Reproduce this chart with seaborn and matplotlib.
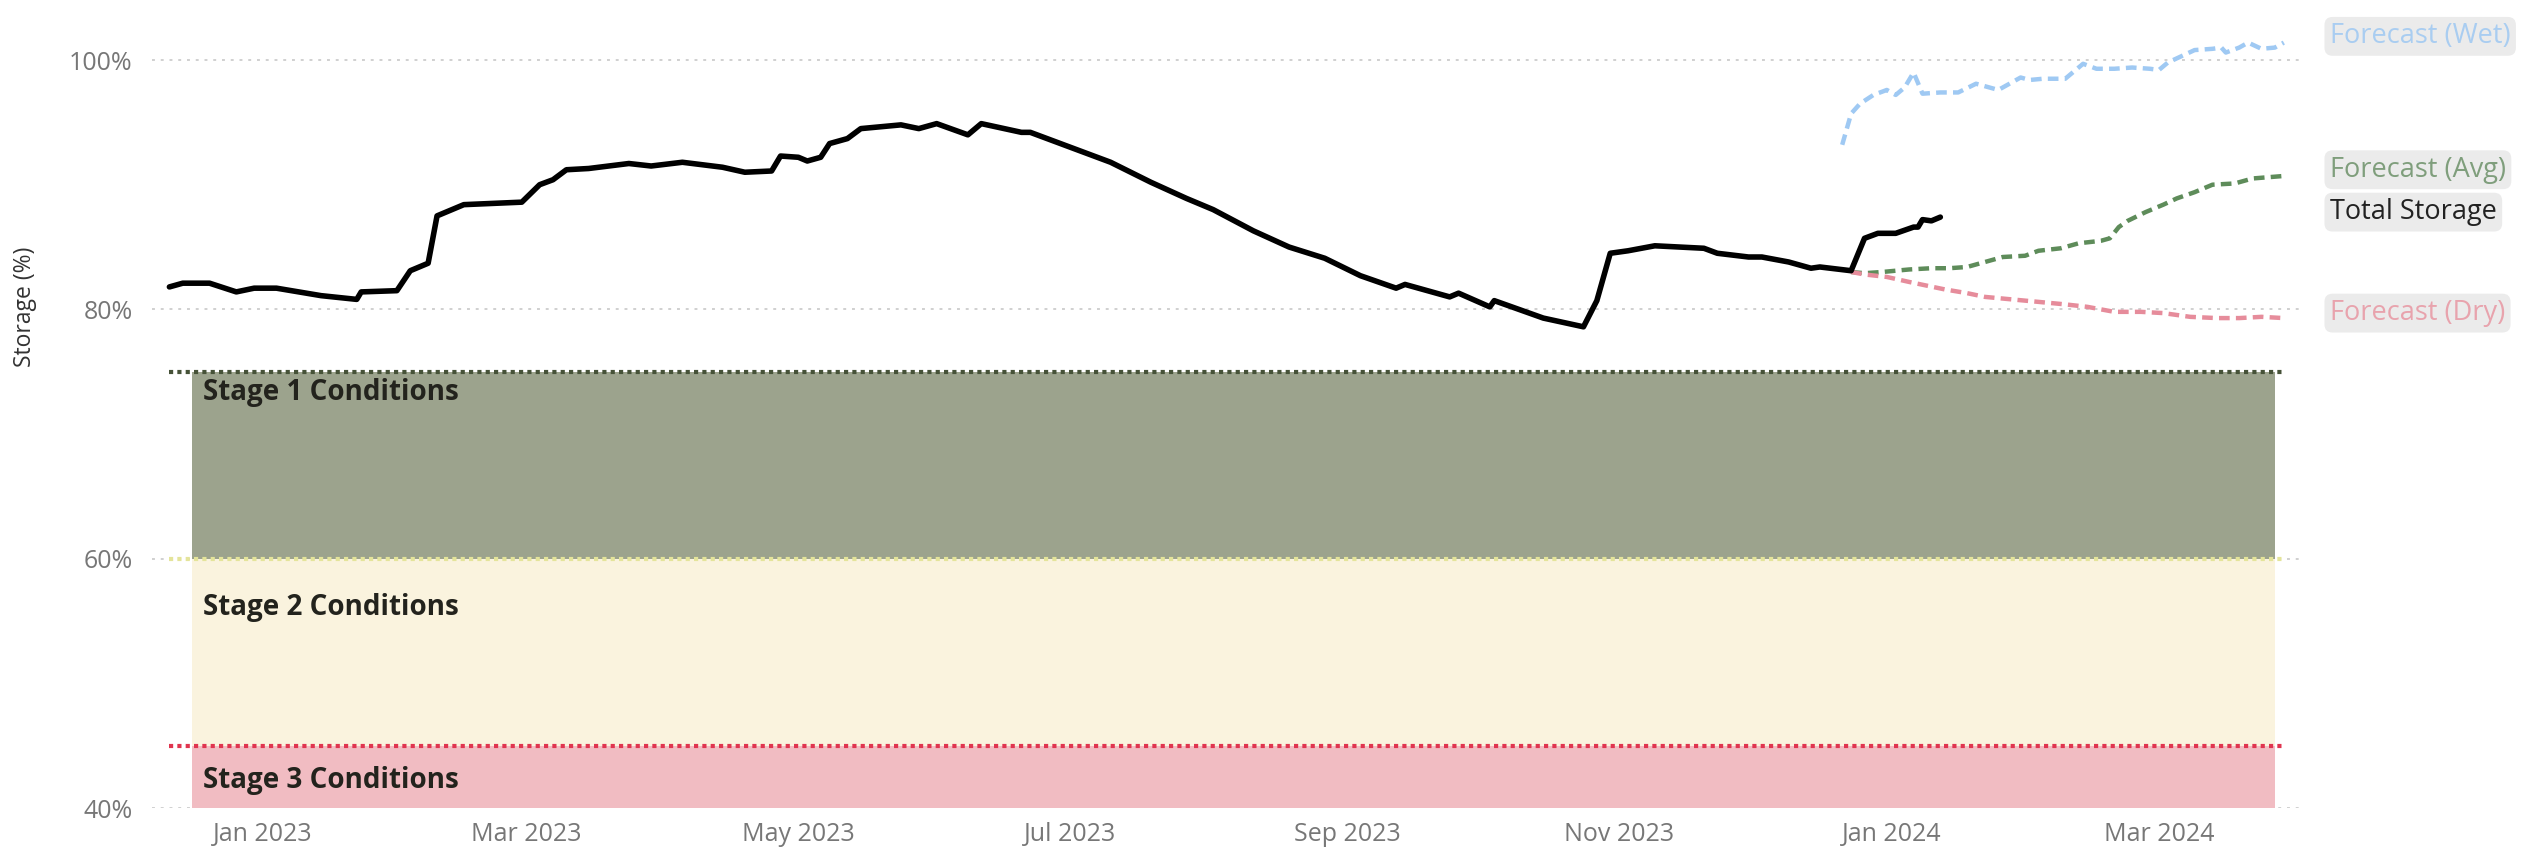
import pandas as pd
import numpy as np
import matplotlib
matplotlib.use("Agg")
import matplotlib.pyplot as plt
import matplotlib.dates as mdates
import matplotlib.transforms as mtransforms
import seaborn as sns

# -------------------------------
# Data
# -------------------------------
storage_dates = [
    "2022-12-11", "2022-12-14", "2022-12-20", "2022-12-26", "2022-12-30", "2023-01-04",
    "2023-01-14", "2023-01-22", "2023-01-23", "2023-01-31", "2023-02-03", "2023-02-07",
    "2023-02-09", "2023-02-15", "2023-02-28", "2023-03-04", "2023-03-07", "2023-03-10",
    "2023-03-15", "2023-03-24", "2023-03-29", "2023-04-05", "2023-04-14", "2023-04-19",
    "2023-04-25", "2023-04-27", "2023-05-01", "2023-05-03", "2023-05-06", "2023-05-08",
    "2023-05-12", "2023-05-15", "2023-05-24", "2023-05-28", "2023-06-01", "2023-06-08",
    "2023-06-11", "2023-06-20", "2023-06-22", "2023-07-04", "2023-07-10", "2023-07-19",
    "2023-07-27", "2023-08-02", "2023-08-11", "2023-08-19", "2023-08-27", "2023-09-04",
    "2023-09-12", "2023-09-14", "2023-09-24", "2023-09-26", "2023-10-03", "2023-10-04",
    "2023-10-15", "2023-10-24", "2023-10-27", "2023-10-30", "2023-11-03", "2023-11-09",
    "2023-11-20", "2023-11-23", "2023-11-30", "2023-12-03", "2023-12-09", "2023-12-14",
    "2023-12-16", "2023-12-23", "2023-12-26", "2023-12-29", "2024-01-02", "2024-01-06",
    "2024-01-07", "2024-01-08", "2024-01-10", "2024-01-12",
]
storage_pct = [
    81.8, 82.1, 82.1, 81.4, 81.7, 81.7,
    81.1, 80.8, 81.4, 81.5, 83.1, 83.7,
    87.5, 88.4, 88.6, 90.0, 90.4, 91.2,
    91.3, 91.7, 91.5, 91.8, 91.4, 91.0,
    91.1, 92.3, 92.2, 91.9, 92.2, 93.3,
    93.7, 94.5, 94.8, 94.5, 94.9, 94.0,
    94.9, 94.2, 94.2, 92.6, 91.8, 90.2,
    88.9, 88.0, 86.3, 85.0, 84.1, 82.7,
    81.7, 82.0, 81.0, 81.3, 80.2, 80.7,
    79.3, 78.6, 80.7, 84.5, 84.7, 85.1,
    84.9, 84.5, 84.2, 84.2, 83.8, 83.3,
    83.4, 83.1, 85.7, 86.1, 86.1, 86.6,
    86.6, 87.2, 87.1, 87.4,
]

wet_dates = [
    "2023-12-21", "2023-12-23", "2023-12-25", "2023-12-28", "2023-12-31", "2024-01-02",
    "2024-01-04", "2024-01-06", "2024-01-08", "2024-01-12", "2024-01-16", "2024-01-20",
    "2024-01-25", "2024-01-30", "2024-02-01", "2024-02-04", "2024-02-09", "2024-02-13",
    "2024-02-16", "2024-02-20", "2024-02-24", "2024-02-28", "2024-03-01", "2024-03-03",
    "2024-03-06", "2024-03-09", "2024-03-13", "2024-03-15", "2024-03-16", "2024-03-19",
    "2024-03-21", "2024-03-24", "2024-03-27", "2024-03-29",
]
wet_pct = [
    93.2, 95.7, 96.5, 97.2, 97.6, 97.2,
    97.8, 99.0, 97.3, 97.4, 97.4, 98.1,
    97.6, 98.6, 98.4, 98.5, 98.5, 99.7,
    99.3, 99.3, 99.4, 99.3, 99.2, 99.8,
    100.3, 100.8, 100.9, 101.0, 100.6, 101.0,
    101.4, 100.9, 101.0, 101.4,
]

avg_dates = [
    "2023-12-23", "2023-12-26", "2023-12-30", "2024-01-05", "2024-01-10", "2024-01-14",
    "2024-01-18", "2024-01-22", "2024-01-26", "2024-01-31", "2024-02-03", "2024-02-08",
    "2024-02-12", "2024-02-17", "2024-02-19", "2024-02-21", "2024-02-23", "2024-02-27",
    "2024-03-02", "2024-03-05", "2024-03-09", "2024-03-13", "2024-03-18", "2024-03-22",
    "2024-03-29",
]
avg_pct = [
    83.0, 82.9, 83.0, 83.2, 83.3, 83.3,
    83.4, 83.8, 84.2, 84.3, 84.7, 84.9,
    85.3, 85.5, 85.7, 86.6, 87.1, 87.8,
    88.4, 88.9, 89.4, 90.0, 90.1, 90.5,
    90.7,
]

dry_dates = [
    "2023-12-23", "2023-12-26", "2023-12-31", "2024-01-05", "2024-01-09", "2024-01-13",
    "2024-01-18", "2024-01-22", "2024-01-28", "2024-02-03", "2024-02-09", "2024-02-14",
    "2024-02-20", "2024-02-26", "2024-03-02", "2024-03-08", "2024-03-14", "2024-03-19",
    "2024-03-24", "2024-03-29",
]
dry_pct = [
    83.0, 82.8, 82.6, 82.2, 81.9, 81.6,
    81.3, 81.0, 80.8, 80.6, 80.4, 80.2,
    79.8, 79.8, 79.7, 79.4, 79.3, 79.3,
    79.4, 79.3,
]

# stage bands (lower, upper) and their names
stage_names = ["Stage 1 Conditions", "Stage 2 Conditions", "Stage 3 Conditions"]
stage_lower = [60, 45, 40]
stage_upper = [75, 60, 45]
band_start, band_end = "2022-12-16", "2024-03-27"
line_start, line_end = "2022-12-11", "2024-03-29"

y_ticks = [40, 60, 80, 100]
x_ticks = ["2023-01-01", "2023-03-01", "2023-05-01", "2023-07-01",
           "2023-09-01", "2023-11-01", "2024-01-01", "2024-03-01"]

# -------------------------------
# Style
# -------------------------------
sns.set_style("white")
plt.rcParams["font.family"] = ["Open Sans", "DejaVu Sans"]

band_colors = ["#9ca38d", "#faf3de", "#f1bcc2"]
thresh_colors = ["#465238", "#e4e49a", "#e0354f"]

storage = pd.DataFrame({"date": pd.to_datetime(storage_dates), "pct": storage_pct})
wet = pd.DataFrame({"date": pd.to_datetime(wet_dates), "pct": wet_pct})
avg = pd.DataFrame({"date": pd.to_datetime(avg_dates), "pct": avg_pct})
dry = pd.DataFrame({"date": pd.to_datetime(dry_dates), "pct": dry_pct})

W, H = 2534, 865
fig = plt.figure(figsize=(W / 100, H / 100), dpi=100)
left_px, right_px, top_px, bot_px = 152, 2303, 30, 808
ax = fig.add_axes([left_px / W, 1 - bot_px / H, (right_px - left_px) / W, (bot_px - top_px) / H])

# gridlines
for v in y_ticks:
    ax.axhline(v, color="#d0d0d0", lw=1.4, ls=(0, (1.5, 3)), zorder=0)

# stage bands
bx = pd.to_datetime([band_start, band_end])
for lo, hi, c in zip(stage_lower, stage_upper, band_colors):
    ax.fill_between(bx, lo, hi, color=c, lw=0, zorder=1)

# threshold lines
lx = pd.to_datetime([line_start, line_end])
for hi, c in zip(stage_upper, thresh_colors):
    ax.hlines(hi, lx[0], lx[1], colors=c, lw=3, linestyles=(0, (1, 1)), zorder=2)

# stage labels
tr = mtransforms.blended_transform_factory(ax.transAxes, ax.transData)
stage_label_y = [73.3, 56.1, 42.2]
for name, yv in zip(stage_names, stage_label_y):
    ax.text(0.0235, yv, name, transform=tr, fontsize=20, fontweight="bold",
            color="#23231d", va="center", ha="left", zorder=3)

# series
sns.lineplot(data=wet, x="date", y="pct", ax=ax, color="#9fc9f3", lw=3.2, zorder=4)
ax.lines[-1].set_dashes((2.4, 1.4))
sns.lineplot(data=avg, x="date", y="pct", ax=ax, color="#5e8c5a", lw=3.2, zorder=4)
ax.lines[-1].set_dashes((2.4, 1.4))
sns.lineplot(data=dry, x="date", y="pct", ax=ax, color="#e68c9b", lw=3.2, zorder=4)
ax.lines[-1].set_dashes((2.4, 1.4))
sns.lineplot(data=storage, x="date", y="pct", ax=ax, color="black", lw=4, zorder=5)

# end labels
end_labels = [
    ("Forecast (Wet)", wet_pct[-1] + 0.5, "#a9cdf1"),
    ("Forecast (Avg)", avg_pct[-1] + 0.5, "#7f9e7c"),
    ("Total Storage", storage_pct[-1] + 0.4, "#222222"),
    ("Forecast (Dry)", dry_pct[-1] + 0.4, "#e8a3ad"),
]
for txt, yv, c in end_labels:
    ax.text(1.0125, yv, txt, transform=tr, fontsize=19.5, color=c, va="center", ha="left",
            bbox=dict(boxstyle="round,pad=0.2,rounding_size=0.3", fc="#ebebeb", ec="none"),
            clip_on=False)

# axes formatting
ax.set_xlim(pd.Timestamp("2023-01-01") - pd.Timedelta(days=24.9),
            pd.Timestamp("2023-01-01") + pd.Timedelta(days=457.3))
ax.set_ylim(40, 102.41)
ax.set_yticks(y_ticks)
ax.set_yticklabels([f"{v}%" for v in y_ticks])
ax.set_xticks(pd.to_datetime(x_ticks))
ax.xaxis.set_major_formatter(mdates.DateFormatter("%b %Y"))
ax.tick_params(axis="both", length=0, labelsize=18, labelcolor="#777777")
ax.tick_params(axis="y", pad=14)
ax.tick_params(axis="x", pad=10)
ax.set_xlabel("")
ax.set_ylabel("Storage (%)", fontsize=16.5, color="#333333")
ax.yaxis.set_label_coords(-0.0535, 0.644)
for s in ax.spines.values():
    s.set_visible(False)

fig.savefig("out.png", dpi=100)
